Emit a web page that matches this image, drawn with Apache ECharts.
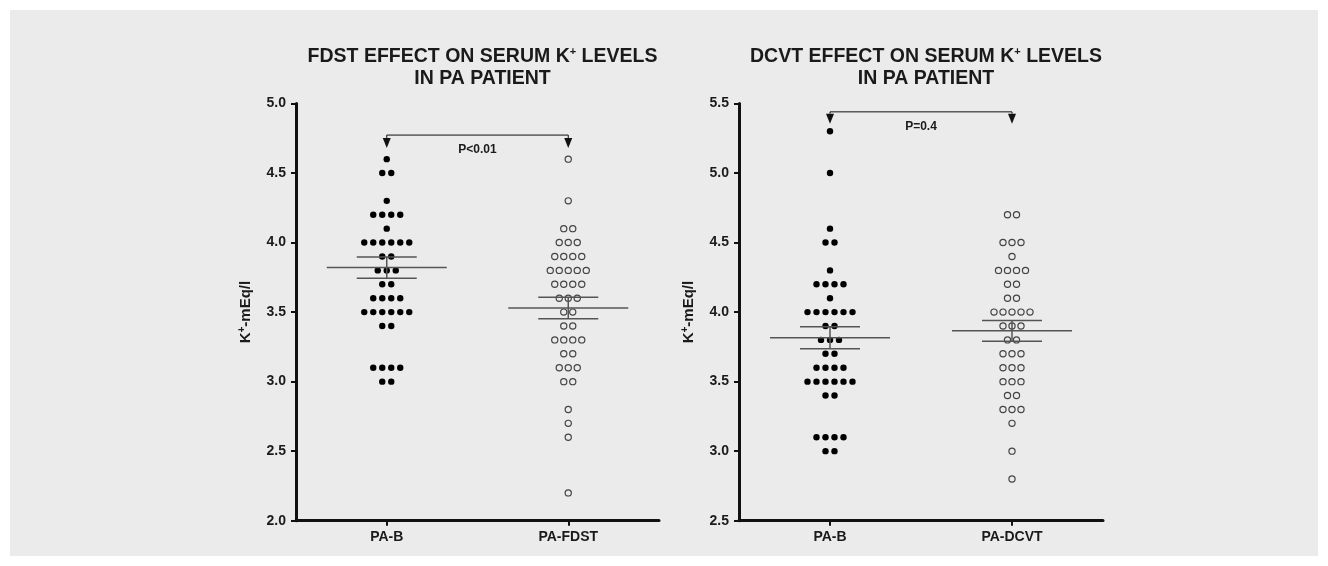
<!DOCTYPE html>
<html>
<head>
<meta charset="utf-8">
<script src="https://cdn.jsdelivr.net/npm/echarts@6/dist/echarts.min.js"></script>
<style>
  html, body { margin: 0; padding: 0; background: #ffffff; }
  #bg { position: absolute; left: 10px; top: 10px; width: 1308px; height: 546px; background: #ebebeb; }
  #chart { position: absolute; left: 0; top: 0; width: 1328px; height: 566px; }
</style>
</head>
<body>
<div id="bg"></div>
<div id="chart"></div>
<script>
// ---------- data ----------
const catsFdst = ['PA-B', 'PA-FDST'];
const catsDcvt = ['PA-B', 'PA-DCVT'];

const fdstBase = [4.6, 4.5, 4.5, 4.3, 4.2, 4.2, 4.2, 4.2, 4.1,
  4.0, 4.0, 4.0, 4.0, 4.0, 4.0, 3.9, 3.9, 3.8, 3.8, 3.8, 3.7, 3.7,
  3.6, 3.6, 3.6, 3.6, 3.5, 3.5, 3.5, 3.5, 3.5, 3.5, 3.4, 3.4,
  3.1, 3.1, 3.1, 3.1, 3.0, 3.0];
const fdstTreat = [4.6, 4.3, 4.1, 4.1, 4.0, 4.0, 4.0, 3.9, 3.9, 3.9, 3.9,
  3.8, 3.8, 3.8, 3.8, 3.8, 3.7, 3.7, 3.7, 3.7, 3.6, 3.6, 3.6, 3.5, 3.5,
  3.4, 3.4, 3.3, 3.3, 3.3, 3.3, 3.2, 3.2, 3.1, 3.1, 3.1, 3.0, 3.0,
  2.8, 2.7, 2.6, 2.2];
const dcvtBase = [5.3, 5.0, 4.6, 4.5, 4.5, 4.3, 4.2, 4.2, 4.2, 4.2, 4.1,
  4.0, 4.0, 4.0, 4.0, 4.0, 4.0, 3.9, 3.9, 3.8, 3.8, 3.8, 3.7, 3.7,
  3.6, 3.6, 3.6, 3.6, 3.5, 3.5, 3.5, 3.5, 3.5, 3.5, 3.4, 3.4,
  3.1, 3.1, 3.1, 3.1, 3.0, 3.0];
const dcvtTreat = [4.7, 4.7, 4.5, 4.5, 4.5, 4.4, 4.3, 4.3, 4.3, 4.3, 4.2, 4.2,
  4.1, 4.1, 4.0, 4.0, 4.0, 4.0, 4.0, 3.9, 3.9, 3.9, 3.8, 3.8,
  3.7, 3.7, 3.7, 3.6, 3.6, 3.6, 3.5, 3.5, 3.5, 3.4, 3.4,
  3.3, 3.3, 3.3, 3.2, 3.0, 2.8];

// mean and SEM as drawn in the reference
const fdstMean = [3.82, 3.53];
const fdstSem = [0.077, 0.077];
const dcvtMean = [3.815, 3.865];
const dcvtSem = [0.079, 0.074];

// significance brackets: [bracket level, arrow tip level]
const fdstBracket = [4.773, 4.68];
const dcvtBracket = [5.44, 5.355];
const pLabels = ['P<0.01', 'P=0.4'];

const yTicksFdst = [2.0, 5.0, 0.5];
const yTicksDcvt = [2.5, 5.5, 0.5];

// ---------- helpers ----------
const SPACING = 9;
function beeswarm(values, catIndex) {
  const groups = {};
  values.forEach(v => { const k = v.toFixed(2); (groups[k] = groups[k] || []).push(v); });
  const out = [];
  Object.keys(groups).forEach(k => {
    const g = groups[k];
    const n = g.length;
    g.forEach((v, i) => {
      out.push({ value: [catIndex, v], symbolOffset: [(i - (n - 1) / 2) * SPACING, 0] });
    });
  });
  return out;
}

const FONT = 'Liberation Sans, Arial, sans-serif';

function axisY(idx, t) {
  return {
    type: 'value', gridIndex: idx, min: t[0], max: t[1], interval: t[2],
    axisLine: { show: true, lineStyle: { color: '#111', width: 3 } },
    axisTick: { show: true, length: 5, lineStyle: { color: '#111', width: 2 } },
    axisLabel: { color: '#1a1a1a', fontFamily: FONT, fontWeight: 'bold', fontSize: 14, margin: 10,
      formatter: v => v.toFixed(1) },
    splitLine: { show: false },
    name: '{a|K}{s|+}{a|-mEq/l}',
    nameLocation: 'middle', nameRotate: 90, nameGap: 41,
    nameTextStyle: {
      rich: {
        a: { fontFamily: FONT, fontWeight: 'bold', fontSize: 15, color: '#1a1a1a', lineHeight: 18 },
        s: { fontFamily: FONT, fontWeight: 'bold', fontSize: 10, color: '#1a1a1a', verticalAlign: 'top', lineHeight: 18 }
      }
    }
  };
}
function axisX(idx, cats) {
  return {
    type: 'category', gridIndex: idx, data: cats, boundaryGap: true,
    axisLine: { show: true, lineStyle: { color: '#111', width: 3 } },
    axisTick: { show: true, alignWithLabel: true, length: 5, lineStyle: { color: '#111', width: 2 } },
    axisLabel: { color: '#1a1a1a', fontFamily: FONT, fontWeight: 'bold', fontSize: 14, margin: 9 },
    splitLine: { show: false }
  };
}

function meanSeries(idx, means, sems) {
  return {
    type: 'custom', xAxisIndex: idx, yAxisIndex: idx, z: 5,
    data: means.map((m, i) => [i, m, sems[i]]),
    renderItem: function (params, api) {
      const c = api.value(0), m = api.value(1), s = api.value(2);
      const pm = api.coord([c, m]);
      const pu = api.coord([c, m + s]);
      const pl = api.coord([c, m - s]);
      const st = { stroke: '#555', lineWidth: 1.5 };
      return {
        type: 'group', children: [
          { type: 'line', shape: { x1: pm[0] - 60, y1: pm[1], x2: pm[0] + 60, y2: pm[1] }, style: st },
          { type: 'line', shape: { x1: pu[0] - 30, y1: pu[1], x2: pu[0] + 30, y2: pu[1] }, style: st },
          { type: 'line', shape: { x1: pl[0] - 30, y1: pl[1], x2: pl[0] + 30, y2: pl[1] }, style: st },
          { type: 'line', shape: { x1: pu[0], y1: pu[1], x2: pl[0], y2: pl[1] }, style: st }
        ]
      };
    }
  };
}

function bracketSeries(idx, br, label) {
  return {
    type: 'custom', xAxisIndex: idx, yAxisIndex: idx, z: 6,
    data: [[0, 1, br[0], br[1]]],
    renderItem: function (params, api) {
      const a = api.coord([api.value(0), api.value(2)]);
      const b = api.coord([api.value(1), api.value(2)]);
      const tipY = api.coord([api.value(0), api.value(3)])[1];
      const th = 10, tw = 4;
      const st = { stroke: '#111', lineWidth: 1 };
      const tri = x => ({ type: 'polygon', shape: { points: [[x - tw, tipY - th], [x + tw, tipY - th], [x, tipY]] }, style: { fill: '#111' } });
      return {
        type: 'group', children: [
          { type: 'line', shape: { x1: a[0], y1: a[1], x2: b[0], y2: b[1] }, style: st },
          { type: 'line', shape: { x1: a[0], y1: a[1], x2: a[0], y2: tipY - th }, style: st },
          { type: 'line', shape: { x1: b[0], y1: b[1], x2: b[0], y2: tipY - th }, style: st },
          tri(a[0]), tri(b[0]),
          { type: 'text', style: { text: label, x: (a[0] + b[0]) / 2, y: a[1] + 15, align: 'center', verticalAlign: 'middle',
            font: 'bold 12px ' + FONT, fill: '#1a1a1a' } }
        ]
      };
    }
  };
}

const filled = { type: 'scatter', symbol: 'circle', symbolSize: 6.4, itemStyle: { color: '#000', opacity: 1 }, z: 3 };
const hollow = { type: 'scatter', symbol: 'circle', symbolSize: 6.2, itemStyle: { color: '#ebebeb', borderColor: '#444', borderWidth: 1.2, opacity: 1 }, z: 3 };

const titleRich = {
  t: { fontFamily: FONT, fontWeight: 'bold', fontSize: 19.5, color: '#1a1a1a', lineHeight: 21.5 },
  s: { fontFamily: FONT, fontWeight: 'bold', fontSize: 11, color: '#1a1a1a', lineHeight: 21.5, verticalAlign: 'top' }
};

const chart = echarts.init(document.getElementById('chart'), null, { renderer: 'canvas' });
chart.setOption({
  animation: false,
  title: [
    { text: '{t|FDST EFFECT ON SERUM K}{s|+}{t| LEVELS}\n{t|IN PA PATIENT}', left: 477.5, top: 41, textAlign: 'center',
      textStyle: { rich: titleRich } },
    { text: '{t|DCVT EFFECT ON SERUM K}{s|+}{t| LEVELS}\n{t|IN PA PATIENT}', left: 921, top: 41, textAlign: 'center',
      textStyle: { rich: titleRich } }
  ],
  grid: [
    { left: 296, top: 103.5, width: 363, height: 417.2 },
    { left: 739, top: 103.5, width: 364, height: 417.2 }
  ],
  xAxis: [axisX(0, catsFdst), axisX(1, catsDcvt)],
  yAxis: [axisY(0, yTicksFdst), axisY(1, yTicksDcvt)],
  series: [
    Object.assign({}, filled, { xAxisIndex: 0, yAxisIndex: 0, data: beeswarm(fdstBase, 0) }),
    Object.assign({}, hollow, { xAxisIndex: 0, yAxisIndex: 0, data: beeswarm(fdstTreat, 1) }),
    Object.assign({}, filled, { xAxisIndex: 1, yAxisIndex: 1, data: beeswarm(dcvtBase, 0) }),
    Object.assign({}, hollow, { xAxisIndex: 1, yAxisIndex: 1, data: beeswarm(dcvtTreat, 1) }),
    meanSeries(0, fdstMean, fdstSem),
    meanSeries(1, dcvtMean, dcvtSem),
    bracketSeries(0, fdstBracket, pLabels[0]),
    bracketSeries(1, dcvtBracket, pLabels[1])
  ]
});
</script>
</body>
</html>
